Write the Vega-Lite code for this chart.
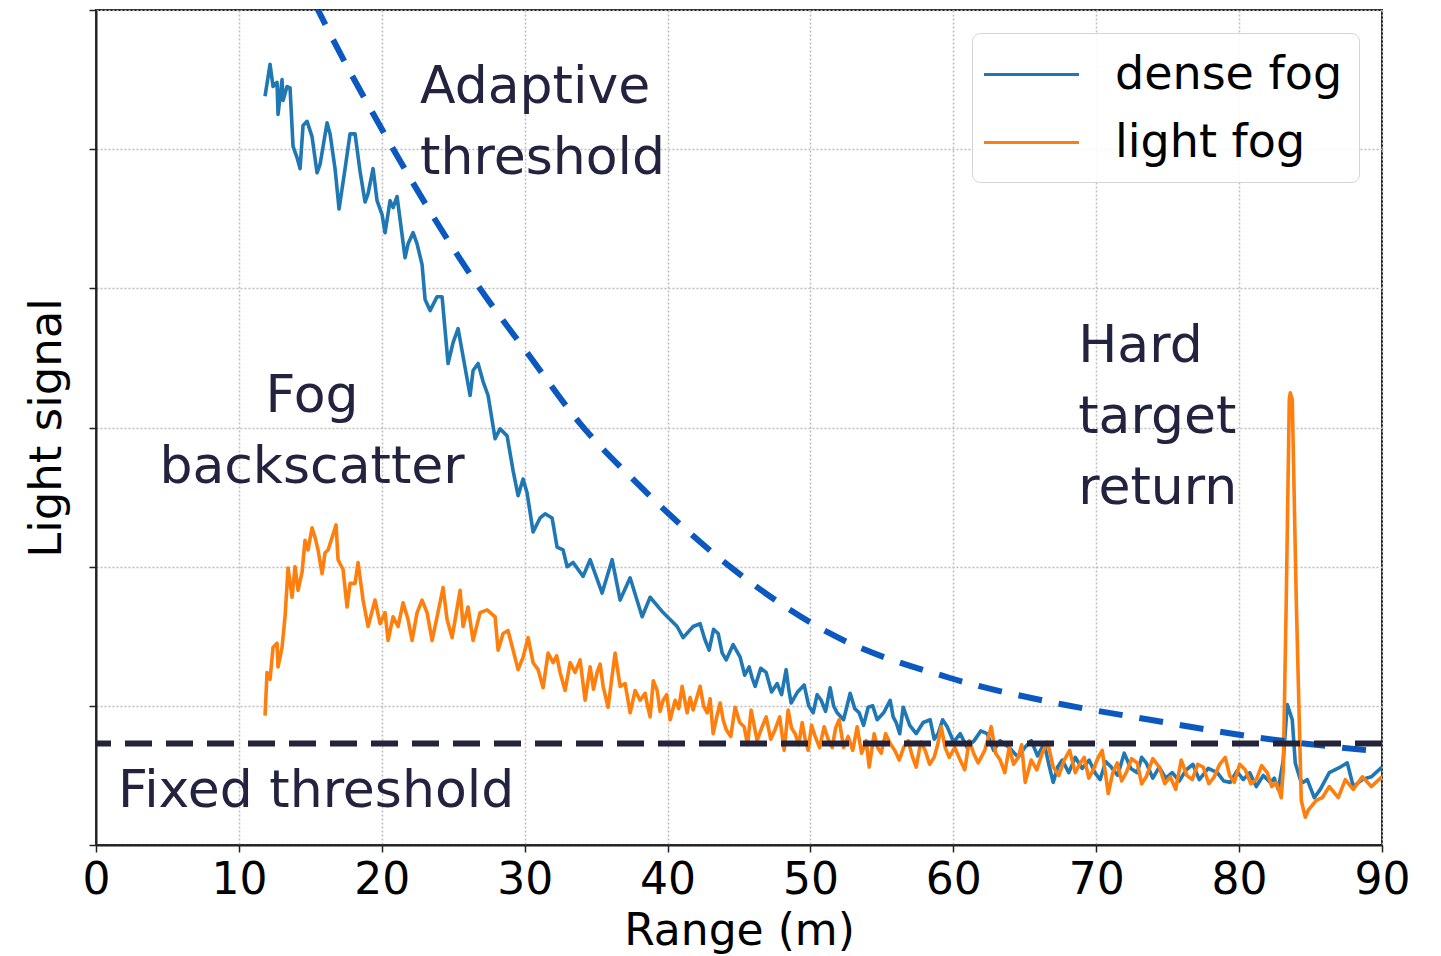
{
  "$schema": "https://vega.github.io/schema/vega-lite/v6.json",
  "width": 1286,
  "height": 835,
  "autosize": {"type": "none"},
  "padding": {"left": 96, "top": 10, "right": 59, "bottom": 111},
  "background": "white",
  "config": {
    "font": "DejaVu Sans",
    "view": {"stroke": "#222222", "strokeWidth": 2},
    "axis": {
      "grid": true,
      "gridColor": "#bdbdbd",
      "gridDash": [2, 2],
      "gridWidth": 1.5,
      "domainColor": "#222222",
      "domainWidth": 2,
      "tickColor": "#222222",
      "tickWidth": 1.5,
      "tickSize": 7,
      "labelFont": "DejaVu Sans",
      "labelColor": "#000000",
      "labelFlush": false,
      "titleFont": "DejaVu Sans",
      "titleColor": "#000000",
      "titleFontWeight": "normal"
    },
    "legend": {
      "orient": "top-right",
      "offset": 23,
      "fillColor": "rgba(255,255,255,0.85)",
      "strokeColor": "#d4d4d4",
      "cornerRadius": 8,
      "padding": 16,
      "symbolType": "M-2,0H2",
      "symbolSize": 2256,
      "symbolStrokeWidth": 3,
      "symbolOffset": 18,
      "labelOffset": 58,
      "rowPadding": 19,
      "labelFont": "DejaVu Sans",
      "labelFontSize": 46,
      "labelColor": "#000000",
      "labelLimit": 400,
      "title": null
    }
  },
  "datasets": {
    "signals": [
      {"range": 11.83, "signal": 5.38, "series": "dense fog"},
      {"range": 12.18, "signal": 5.61, "series": "dense fog"},
      {"range": 12.39, "signal": 5.45, "series": "dense fog"},
      {"range": 12.67, "signal": 5.48, "series": "dense fog"},
      {"range": 12.74, "signal": 5.25, "series": "dense fog"},
      {"range": 13.02, "signal": 5.50, "series": "dense fog"},
      {"range": 13.09, "signal": 5.35, "series": "dense fog"},
      {"range": 13.37, "signal": 5.45, "series": "dense fog"},
      {"range": 13.58, "signal": 5.44, "series": "dense fog"},
      {"range": 13.79, "signal": 5.02, "series": "dense fog"},
      {"range": 14.07, "signal": 4.94, "series": "dense fog"},
      {"range": 14.28, "signal": 4.86, "series": "dense fog"},
      {"range": 14.49, "signal": 5.17, "series": "dense fog"},
      {"range": 14.77, "signal": 5.20, "series": "dense fog"},
      {"range": 15.12, "signal": 5.09, "series": "dense fog"},
      {"range": 15.47, "signal": 4.83, "series": "dense fog"},
      {"range": 15.68, "signal": 4.89, "series": "dense fog"},
      {"range": 16.17, "signal": 5.19, "series": "dense fog"},
      {"range": 16.38, "signal": 5.11, "series": "dense fog"},
      {"range": 16.73, "signal": 4.86, "series": "dense fog"},
      {"range": 17.01, "signal": 4.57, "series": "dense fog"},
      {"range": 17.43, "signal": 4.86, "series": "dense fog"},
      {"range": 17.78, "signal": 5.11, "series": "dense fog"},
      {"range": 18.13, "signal": 5.11, "series": "dense fog"},
      {"range": 18.48, "signal": 4.84, "series": "dense fog"},
      {"range": 18.83, "signal": 4.62, "series": "dense fog"},
      {"range": 19.04, "signal": 4.68, "series": "dense fog"},
      {"range": 19.39, "signal": 4.86, "series": "dense fog"},
      {"range": 19.67, "signal": 4.63, "series": "dense fog"},
      {"range": 20.02, "signal": 4.53, "series": "dense fog"},
      {"range": 20.23, "signal": 4.40, "series": "dense fog"},
      {"range": 20.58, "signal": 4.63, "series": "dense fog"},
      {"range": 20.79, "signal": 4.58, "series": "dense fog"},
      {"range": 21.07, "signal": 4.66, "series": "dense fog"},
      {"range": 21.63, "signal": 4.22, "series": "dense fog"},
      {"range": 21.84, "signal": 4.32, "series": "dense fog"},
      {"range": 22.19, "signal": 4.40, "series": "dense fog"},
      {"range": 22.47, "signal": 4.32, "series": "dense fog"},
      {"range": 22.82, "signal": 4.17, "series": "dense fog"},
      {"range": 23.03, "signal": 3.92, "series": "dense fog"},
      {"range": 23.38, "signal": 3.84, "series": "dense fog"},
      {"range": 23.87, "signal": 3.94, "series": "dense fog"},
      {"range": 24.22, "signal": 3.94, "series": "dense fog"},
      {"range": 24.64, "signal": 3.46, "series": "dense fog"},
      {"range": 24.99, "signal": 3.61, "series": "dense fog"},
      {"range": 25.34, "signal": 3.71, "series": "dense fog"},
      {"range": 25.69, "signal": 3.51, "series": "dense fog"},
      {"range": 26.18, "signal": 3.23, "series": "dense fog"},
      {"range": 26.39, "signal": 3.41, "series": "dense fog"},
      {"range": 26.74, "signal": 3.46, "series": "dense fog"},
      {"range": 27.09, "signal": 3.33, "series": "dense fog"},
      {"range": 27.44, "signal": 3.23, "series": "dense fog"},
      {"range": 27.93, "signal": 2.92, "series": "dense fog"},
      {"range": 28.28, "signal": 2.99, "series": "dense fog"},
      {"range": 28.77, "signal": 2.94, "series": "dense fog"},
      {"range": 29.19, "signal": 2.69, "series": "dense fog"},
      {"range": 29.54, "signal": 2.51, "series": "dense fog"},
      {"range": 29.89, "signal": 2.63, "series": "dense fog"},
      {"range": 30.17, "signal": 2.53, "series": "dense fog"},
      {"range": 30.59, "signal": 2.25, "series": "dense fog"},
      {"range": 31.08, "signal": 2.35, "series": "dense fog"},
      {"range": 31.43, "signal": 2.38, "series": "dense fog"},
      {"range": 31.92, "signal": 2.35, "series": "dense fog"},
      {"range": 32.27, "signal": 2.14, "series": "dense fog"},
      {"range": 32.69, "signal": 2.12, "series": "dense fog"},
      {"range": 32.97, "signal": 2.00, "series": "dense fog"},
      {"range": 33.39, "signal": 2.03, "series": "dense fog"},
      {"range": 34.09, "signal": 1.93, "series": "dense fog"},
      {"range": 34.58, "signal": 2.05, "series": "dense fog"},
      {"range": 35.42, "signal": 1.81, "series": "dense fog"},
      {"range": 36.12, "signal": 2.05, "series": "dense fog"},
      {"range": 36.68, "signal": 1.76, "series": "dense fog"},
      {"range": 37.38, "signal": 1.92, "series": "dense fog"},
      {"range": 38.22, "signal": 1.64, "series": "dense fog"},
      {"range": 38.78, "signal": 1.78, "series": "dense fog"},
      {"range": 39.69, "signal": 1.67, "series": "dense fog"},
      {"range": 40.67, "signal": 1.57, "series": "dense fog"},
      {"range": 41.09, "signal": 1.49, "series": "dense fog"},
      {"range": 41.79, "signal": 1.57, "series": "dense fog"},
      {"range": 42.28, "signal": 1.59, "series": "dense fog"},
      {"range": 42.91, "signal": 1.40, "series": "dense fog"},
      {"range": 43.54, "signal": 1.52, "series": "dense fog"},
      {"range": 44.10, "signal": 1.33, "series": "dense fog"},
      {"range": 45.08, "signal": 1.35, "series": "dense fog"},
      {"range": 45.71, "signal": 1.28, "series": "dense fog"},
      {"range": 46.13, "signal": 1.14, "series": "dense fog"},
      {"range": 46.90, "signal": 1.24, "series": "dense fog"},
      {"range": 47.67, "signal": 1.16, "series": "dense fog"},
      {"range": 48.30, "signal": 1.26, "series": "dense fog"},
      {"range": 48.65, "signal": 1.02, "series": "dense fog"},
      {"range": 49.56, "signal": 1.15, "series": "dense fog"},
      {"range": 50.19, "signal": 0.95, "series": "dense fog"},
      {"range": 50.75, "signal": 1.04, "series": "dense fog"},
      {"range": 51.38, "signal": 1.13, "series": "dense fog"},
      {"range": 51.87, "signal": 0.95, "series": "dense fog"},
      {"range": 52.78, "signal": 1.09, "series": "dense fog"},
      {"range": 53.41, "signal": 0.95, "series": "dense fog"},
      {"range": 54.04, "signal": 0.99, "series": "dense fog"},
      {"range": 54.67, "signal": 0.90, "series": "dense fog"},
      {"range": 55.58, "signal": 1.04, "series": "dense fog"},
      {"range": 56.00, "signal": 0.88, "series": "dense fog"},
      {"range": 56.49, "signal": 0.99, "series": "dense fog"},
      {"range": 57.40, "signal": 0.80, "series": "dense fog"},
      {"range": 58.38, "signal": 0.90, "series": "dense fog"},
      {"range": 58.94, "signal": 0.80, "series": "dense fog"},
      {"range": 59.57, "signal": 0.85, "series": "dense fog"},
      {"range": 60.48, "signal": 0.80, "series": "dense fog"},
      {"range": 61.46, "signal": 0.75, "series": "dense fog"},
      {"range": 62.37, "signal": 0.80, "series": "dense fog"},
      {"range": 63.28, "signal": 0.75, "series": "dense fog"},
      {"range": 64.54, "signal": 0.63, "series": "dense fog"},
      {"range": 65.45, "signal": 0.75, "series": "dense fog"},
      {"range": 66.36, "signal": 0.73, "series": "dense fog"},
      {"range": 66.99, "signal": 0.45, "series": "dense fog"},
      {"range": 67.62, "signal": 0.61, "series": "dense fog"},
      {"range": 68.53, "signal": 0.63, "series": "dense fog"},
      {"range": 69.51, "signal": 0.61, "series": "dense fog"},
      {"range": 70.28, "signal": 0.47, "series": "dense fog"},
      {"range": 71.05, "signal": 0.56, "series": "dense fog"},
      {"range": 71.96, "signal": 0.66, "series": "dense fog"},
      {"range": 72.87, "signal": 0.52, "series": "dense fog"},
      {"range": 73.50, "signal": 0.59, "series": "dense fog"},
      {"range": 74.41, "signal": 0.56, "series": "dense fog"},
      {"range": 75.32, "signal": 0.52, "series": "dense fog"},
      {"range": 76.30, "signal": 0.54, "series": "dense fog"},
      {"range": 77.21, "signal": 0.47, "series": "dense fog"},
      {"range": 78.47, "signal": 0.52, "series": "dense fog"},
      {"range": 79.38, "signal": 0.45, "series": "dense fog"},
      {"range": 80.29, "signal": 0.47, "series": "dense fog"},
      {"range": 81.20, "signal": 0.42, "series": "dense fog"},
      {"range": 82.18, "signal": 0.45, "series": "dense fog"},
      {"range": 82.74, "signal": 0.40, "series": "dense fog"},
      {"range": 83.09, "signal": 0.61, "series": "dense fog"},
      {"range": 83.37, "signal": 1.01, "series": "dense fog"},
      {"range": 83.72, "signal": 0.90, "series": "dense fog"},
      {"range": 83.93, "signal": 0.59, "series": "dense fog"},
      {"range": 84.28, "signal": 0.47, "series": "dense fog"},
      {"range": 84.49, "signal": 0.45, "series": "dense fog"},
      {"range": 84.77, "signal": 0.47, "series": "dense fog"},
      {"range": 85.26, "signal": 0.34, "series": "dense fog"},
      {"range": 85.68, "signal": 0.40, "series": "dense fog"},
      {"range": 86.31, "signal": 0.52, "series": "dense fog"},
      {"range": 87.08, "signal": 0.56, "series": "dense fog"},
      {"range": 87.57, "signal": 0.59, "series": "dense fog"},
      {"range": 87.99, "signal": 0.42, "series": "dense fog"},
      {"range": 88.62, "signal": 0.47, "series": "dense fog"},
      {"range": 89.25, "signal": 0.49, "series": "dense fog"},
      {"range": 90.00, "signal": 0.56, "series": "dense fog"},
      {"range": 42.60, "signal": 1.48, "series": "dense fog"},
      {"range": 43.22, "signal": 1.55, "series": "dense fog"},
      {"range": 43.82, "signal": 1.38, "series": "dense fog"},
      {"range": 44.59, "signal": 1.44, "series": "dense fog"},
      {"range": 45.40, "signal": 1.22, "series": "dense fog"},
      {"range": 45.92, "signal": 1.20, "series": "dense fog"},
      {"range": 46.52, "signal": 1.27, "series": "dense fog"},
      {"range": 47.28, "signal": 1.10, "series": "dense fog"},
      {"range": 47.98, "signal": 1.08, "series": "dense fog"},
      {"range": 48.48, "signal": 1.12, "series": "dense fog"},
      {"range": 49.10, "signal": 1.10, "series": "dense fog"},
      {"range": 49.88, "signal": 1.00, "series": "dense fog"},
      {"range": 50.47, "signal": 1.08, "series": "dense fog"},
      {"range": 51.06, "signal": 0.96, "series": "dense fog"},
      {"range": 51.62, "signal": 1.00, "series": "dense fog"},
      {"range": 52.32, "signal": 0.90, "series": "dense fog"},
      {"range": 53.10, "signal": 0.98, "series": "dense fog"},
      {"range": 53.72, "signal": 0.86, "series": "dense fog"},
      {"range": 54.36, "signal": 1.00, "series": "dense fog"},
      {"range": 55.12, "signal": 0.95, "series": "dense fog"},
      {"range": 55.79, "signal": 0.92, "series": "dense fog"},
      {"range": 56.25, "signal": 0.80, "series": "dense fog"},
      {"range": 56.95, "signal": 0.86, "series": "dense fog"},
      {"range": 57.89, "signal": 0.88, "series": "dense fog"},
      {"range": 58.66, "signal": 0.76, "series": "dense fog"},
      {"range": 59.25, "signal": 0.90, "series": "dense fog"},
      {"range": 60.02, "signal": 0.74, "series": "dense fog"},
      {"range": 60.97, "signal": 0.70, "series": "dense fog"},
      {"range": 61.92, "signal": 0.82, "series": "dense fog"},
      {"range": 62.82, "signal": 0.68, "series": "dense fog"},
      {"range": 63.91, "signal": 0.70, "series": "dense fog"},
      {"range": 65.00, "signal": 0.70, "series": "dense fog"},
      {"range": 65.90, "signal": 0.64, "series": "dense fog"},
      {"range": 66.68, "signal": 0.58, "series": "dense fog"},
      {"range": 67.30, "signal": 0.56, "series": "dense fog"},
      {"range": 68.08, "signal": 0.52, "series": "dense fog"},
      {"range": 69.02, "signal": 0.55, "series": "dense fog"},
      {"range": 69.90, "signal": 0.52, "series": "dense fog"},
      {"range": 70.66, "signal": 0.60, "series": "dense fog"},
      {"range": 71.50, "signal": 0.50, "series": "dense fog"},
      {"range": 72.42, "signal": 0.55, "series": "dense fog"},
      {"range": 73.18, "signal": 0.63, "series": "dense fog"},
      {"range": 73.96, "signal": 0.48, "series": "dense fog"},
      {"range": 74.86, "signal": 0.48, "series": "dense fog"},
      {"range": 75.81, "signal": 0.46, "series": "dense fog"},
      {"range": 76.76, "signal": 0.58, "series": "dense fog"},
      {"range": 77.84, "signal": 0.55, "series": "dense fog"},
      {"range": 78.92, "signal": 0.46, "series": "dense fog"},
      {"range": 79.84, "signal": 0.53, "series": "dense fog"},
      {"range": 80.74, "signal": 0.52, "series": "dense fog"},
      {"range": 81.69, "signal": 0.50, "series": "dense fog"},
      {"range": 82.46, "signal": 0.48, "series": "dense fog"},
      {"range": 11.83, "signal": 0.93, "series": "light fog"},
      {"range": 11.97, "signal": 1.24, "series": "light fog"},
      {"range": 12.18, "signal": 1.19, "series": "light fog"},
      {"range": 12.39, "signal": 1.42, "series": "light fog"},
      {"range": 12.67, "signal": 1.45, "series": "light fog"},
      {"range": 12.74, "signal": 1.28, "series": "light fog"},
      {"range": 13.02, "signal": 1.42, "series": "light fog"},
      {"range": 13.23, "signal": 1.64, "series": "light fog"},
      {"range": 13.44, "signal": 1.99, "series": "light fog"},
      {"range": 13.72, "signal": 1.78, "series": "light fog"},
      {"range": 13.93, "signal": 2.00, "series": "light fog"},
      {"range": 14.14, "signal": 1.83, "series": "light fog"},
      {"range": 14.42, "signal": 1.96, "series": "light fog"},
      {"range": 14.63, "signal": 2.19, "series": "light fog"},
      {"range": 14.84, "signal": 2.12, "series": "light fog"},
      {"range": 15.12, "signal": 2.28, "series": "light fog"},
      {"range": 15.33, "signal": 2.21, "series": "light fog"},
      {"range": 15.54, "signal": 2.12, "series": "light fog"},
      {"range": 15.82, "signal": 1.95, "series": "light fog"},
      {"range": 16.03, "signal": 2.10, "series": "light fog"},
      {"range": 16.24, "signal": 2.12, "series": "light fog"},
      {"range": 16.52, "signal": 2.21, "series": "light fog"},
      {"range": 16.80, "signal": 2.30, "series": "light fog"},
      {"range": 16.94, "signal": 2.05, "series": "light fog"},
      {"range": 17.29, "signal": 1.98, "series": "light fog"},
      {"range": 17.57, "signal": 1.71, "series": "light fog"},
      {"range": 17.78, "signal": 1.88, "series": "light fog"},
      {"range": 18.13, "signal": 1.88, "series": "light fog"},
      {"range": 18.34, "signal": 2.03, "series": "light fog"},
      {"range": 18.69, "signal": 1.76, "series": "light fog"},
      {"range": 19.04, "signal": 1.57, "series": "light fog"},
      {"range": 19.53, "signal": 1.76, "series": "light fog"},
      {"range": 19.88, "signal": 1.59, "series": "light fog"},
      {"range": 20.23, "signal": 1.67, "series": "light fog"},
      {"range": 20.44, "signal": 1.47, "series": "light fog"},
      {"range": 20.79, "signal": 1.64, "series": "light fog"},
      {"range": 21.14, "signal": 1.57, "series": "light fog"},
      {"range": 21.49, "signal": 1.74, "series": "light fog"},
      {"range": 21.84, "signal": 1.62, "series": "light fog"},
      {"range": 22.12, "signal": 1.47, "series": "light fog"},
      {"range": 22.47, "signal": 1.67, "series": "light fog"},
      {"range": 22.82, "signal": 1.76, "series": "light fog"},
      {"range": 23.17, "signal": 1.67, "series": "light fog"},
      {"range": 23.52, "signal": 1.47, "series": "light fog"},
      {"range": 23.87, "signal": 1.64, "series": "light fog"},
      {"range": 24.29, "signal": 1.85, "series": "light fog"},
      {"range": 24.57, "signal": 1.62, "series": "light fog"},
      {"range": 24.92, "signal": 1.49, "series": "light fog"},
      {"range": 25.48, "signal": 1.83, "series": "light fog"},
      {"range": 25.69, "signal": 1.57, "series": "light fog"},
      {"range": 26.04, "signal": 1.71, "series": "light fog"},
      {"range": 26.39, "signal": 1.47, "series": "light fog"},
      {"range": 26.88, "signal": 1.67, "series": "light fog"},
      {"range": 27.37, "signal": 1.69, "series": "light fog"},
      {"range": 27.93, "signal": 1.64, "series": "light fog"},
      {"range": 28.14, "signal": 1.40, "series": "light fog"},
      {"range": 28.49, "signal": 1.52, "series": "light fog"},
      {"range": 28.84, "signal": 1.54, "series": "light fog"},
      {"range": 29.19, "signal": 1.40, "series": "light fog"},
      {"range": 29.54, "signal": 1.26, "series": "light fog"},
      {"range": 29.89, "signal": 1.35, "series": "light fog"},
      {"range": 30.24, "signal": 1.49, "series": "light fog"},
      {"range": 30.59, "signal": 1.31, "series": "light fog"},
      {"range": 30.94, "signal": 1.26, "series": "light fog"},
      {"range": 31.29, "signal": 1.13, "series": "light fog"},
      {"range": 31.64, "signal": 1.38, "series": "light fog"},
      {"range": 31.99, "signal": 1.31, "series": "light fog"},
      {"range": 32.48, "signal": 1.24, "series": "light fog"},
      {"range": 32.83, "signal": 1.11, "series": "light fog"},
      {"range": 33.18, "signal": 1.31, "series": "light fog"},
      {"range": 33.53, "signal": 1.24, "series": "light fog"},
      {"range": 33.88, "signal": 1.33, "series": "light fog"},
      {"range": 34.23, "signal": 1.04, "series": "light fog"},
      {"range": 34.58, "signal": 1.28, "series": "light fog"},
      {"range": 35.07, "signal": 1.24, "series": "light fog"},
      {"range": 35.49, "signal": 1.14, "series": "light fog"},
      {"range": 35.84, "signal": 0.99, "series": "light fog"},
      {"range": 36.33, "signal": 1.38, "series": "light fog"},
      {"range": 36.68, "signal": 1.14, "series": "light fog"},
      {"range": 37.03, "signal": 1.16, "series": "light fog"},
      {"range": 37.38, "signal": 0.95, "series": "light fog"},
      {"range": 37.73, "signal": 1.11, "series": "light fog"},
      {"range": 38.08, "signal": 1.04, "series": "light fog"},
      {"range": 38.43, "signal": 1.09, "series": "light fog"},
      {"range": 38.78, "signal": 0.92, "series": "light fog"},
      {"range": 39.27, "signal": 1.11, "series": "light fog"},
      {"range": 39.69, "signal": 1.04, "series": "light fog"},
      {"range": 40.18, "signal": 0.90, "series": "light fog"},
      {"range": 40.53, "signal": 1.04, "series": "light fog"},
      {"range": 41.02, "signal": 1.14, "series": "light fog"},
      {"range": 41.37, "signal": 0.95, "series": "light fog"},
      {"range": 41.79, "signal": 0.97, "series": "light fog"},
      {"range": 42.28, "signal": 1.14, "series": "light fog"},
      {"range": 42.77, "signal": 0.95, "series": "light fog"},
      {"range": 43.19, "signal": 0.80, "series": "light fog"},
      {"range": 43.68, "signal": 1.02, "series": "light fog"},
      {"range": 44.10, "signal": 0.83, "series": "light fog"},
      {"range": 44.73, "signal": 0.99, "series": "light fog"},
      {"range": 45.36, "signal": 0.85, "series": "light fog"},
      {"range": 45.85, "signal": 0.97, "series": "light fog"},
      {"range": 46.27, "signal": 0.75, "series": "light fog"},
      {"range": 46.90, "signal": 0.92, "series": "light fog"},
      {"range": 47.53, "signal": 0.83, "series": "light fog"},
      {"range": 48.16, "signal": 0.68, "series": "light fog"},
      {"range": 48.44, "signal": 0.97, "series": "light fog"},
      {"range": 48.93, "signal": 0.80, "series": "light fog"},
      {"range": 49.42, "signal": 0.88, "series": "light fog"},
      {"range": 49.84, "signal": 0.68, "series": "light fog"},
      {"range": 50.33, "signal": 0.78, "series": "light fog"},
      {"range": 50.96, "signal": 0.85, "series": "light fog"},
      {"range": 51.52, "signal": 0.70, "series": "light fog"},
      {"range": 52.01, "signal": 0.90, "series": "light fog"},
      {"range": 52.64, "signal": 0.78, "series": "light fog"},
      {"range": 53.27, "signal": 0.85, "series": "light fog"},
      {"range": 53.90, "signal": 0.75, "series": "light fog"},
      {"range": 54.11, "signal": 0.56, "series": "light fog"},
      {"range": 54.46, "signal": 0.80, "series": "light fog"},
      {"range": 54.95, "signal": 0.66, "series": "light fog"},
      {"range": 55.58, "signal": 0.73, "series": "light fog"},
      {"range": 56.21, "signal": 0.61, "series": "light fog"},
      {"range": 56.84, "signal": 0.75, "series": "light fog"},
      {"range": 57.40, "signal": 0.56, "series": "light fog"},
      {"range": 58.03, "signal": 0.68, "series": "light fog"},
      {"range": 58.66, "signal": 0.63, "series": "light fog"},
      {"range": 59.15, "signal": 0.85, "series": "light fog"},
      {"range": 59.71, "signal": 0.63, "series": "light fog"},
      {"range": 60.48, "signal": 0.61, "series": "light fog"},
      {"range": 61.11, "signal": 0.75, "series": "light fog"},
      {"range": 61.74, "signal": 0.59, "series": "light fog"},
      {"range": 62.65, "signal": 0.85, "series": "light fog"},
      {"range": 63.28, "signal": 0.61, "series": "light fog"},
      {"range": 63.91, "signal": 0.70, "series": "light fog"},
      {"range": 64.54, "signal": 0.63, "series": "light fog"},
      {"range": 65.03, "signal": 0.45, "series": "light fog"},
      {"range": 65.45, "signal": 0.61, "series": "light fog"},
      {"range": 66.22, "signal": 0.66, "series": "light fog"},
      {"range": 66.99, "signal": 0.56, "series": "light fog"},
      {"range": 67.76, "signal": 0.61, "series": "light fog"},
      {"range": 68.53, "signal": 0.52, "series": "light fog"},
      {"range": 69.16, "signal": 0.63, "series": "light fog"},
      {"range": 69.79, "signal": 0.54, "series": "light fog"},
      {"range": 70.42, "signal": 0.68, "series": "light fog"},
      {"range": 70.84, "signal": 0.37, "series": "light fog"},
      {"range": 71.47, "signal": 0.59, "series": "light fog"},
      {"range": 72.10, "signal": 0.52, "series": "light fog"},
      {"range": 72.87, "signal": 0.59, "series": "light fog"},
      {"range": 73.50, "signal": 0.49, "series": "light fog"},
      {"range": 74.41, "signal": 0.56, "series": "light fog"},
      {"range": 75.18, "signal": 0.49, "series": "light fog"},
      {"range": 75.95, "signal": 0.61, "series": "light fog"},
      {"range": 76.72, "signal": 0.47, "series": "light fog"},
      {"range": 77.49, "signal": 0.56, "series": "light fog"},
      {"range": 78.26, "signal": 0.49, "series": "light fog"},
      {"range": 79.03, "signal": 0.63, "series": "light fog"},
      {"range": 79.66, "signal": 0.45, "series": "light fog"},
      {"range": 80.43, "signal": 0.54, "series": "light fog"},
      {"range": 81.20, "signal": 0.47, "series": "light fog"},
      {"range": 81.97, "signal": 0.52, "series": "light fog"},
      {"range": 82.60, "signal": 0.45, "series": "light fog"},
      {"range": 82.95, "signal": 0.34, "series": "light fog"},
      {"range": 83.09, "signal": 0.54, "series": "light fog"},
      {"range": 83.30, "signal": 1.76, "series": "light fog"},
      {"range": 83.51, "signal": 3.20, "series": "light fog"},
      {"range": 83.58, "signal": 3.25, "series": "light fog"},
      {"range": 83.72, "signal": 3.20, "series": "light fog"},
      {"range": 84.00, "signal": 1.76, "series": "light fog"},
      {"range": 84.35, "signal": 0.32, "series": "light fog"},
      {"range": 84.63, "signal": 0.20, "series": "light fog"},
      {"range": 84.84, "signal": 0.25, "series": "light fog"},
      {"range": 85.40, "signal": 0.32, "series": "light fog"},
      {"range": 85.82, "signal": 0.34, "series": "light fog"},
      {"range": 86.31, "signal": 0.42, "series": "light fog"},
      {"range": 86.94, "signal": 0.34, "series": "light fog"},
      {"range": 87.43, "signal": 0.47, "series": "light fog"},
      {"range": 87.99, "signal": 0.40, "series": "light fog"},
      {"range": 88.62, "signal": 0.49, "series": "light fog"},
      {"range": 89.25, "signal": 0.42, "series": "light fog"},
      {"range": 90.00, "signal": 0.49, "series": "light fog"},
      {"range": 32.24, "signal": 1.36, "series": "light fog"},
      {"range": 34.82, "signal": 1.12, "series": "light fog"},
      {"range": 35.28, "signal": 1.30, "series": "light fog"},
      {"range": 36.10, "signal": 1.20, "series": "light fog"},
      {"range": 38.60, "signal": 1.00, "series": "light fog"},
      {"range": 39.00, "signal": 1.18, "series": "light fog"},
      {"range": 39.48, "signal": 0.96, "series": "light fog"},
      {"range": 39.94, "signal": 1.08, "series": "light fog"},
      {"range": 40.78, "signal": 0.98, "series": "light fog"},
      {"range": 41.58, "signal": 1.06, "series": "light fog"},
      {"range": 42.52, "signal": 1.00, "series": "light fog"},
      {"range": 42.98, "signal": 1.05, "series": "light fog"},
      {"range": 43.44, "signal": 0.92, "series": "light fog"},
      {"range": 43.89, "signal": 0.90, "series": "light fog"},
      {"range": 44.42, "signal": 0.78, "series": "light fog"},
      {"range": 45.05, "signal": 0.88, "series": "light fog"},
      {"range": 45.60, "signal": 0.72, "series": "light fog"},
      {"range": 46.06, "signal": 0.86, "series": "light fog"},
      {"range": 46.58, "signal": 0.84, "series": "light fog"},
      {"range": 47.22, "signal": 0.76, "series": "light fog"},
      {"range": 47.85, "signal": 0.92, "series": "light fog"},
      {"range": 48.68, "signal": 0.84, "series": "light fog"},
      {"range": 49.18, "signal": 0.72, "series": "light fog"},
      {"range": 49.63, "signal": 0.76, "series": "light fog"},
      {"range": 50.08, "signal": 0.86, "series": "light fog"},
      {"range": 50.64, "signal": 0.70, "series": "light fog"},
      {"range": 51.24, "signal": 0.76, "series": "light fog"},
      {"range": 51.76, "signal": 0.84, "series": "light fog"},
      {"range": 52.32, "signal": 0.70, "series": "light fog"},
      {"range": 52.96, "signal": 0.68, "series": "light fog"},
      {"range": 53.58, "signal": 0.66, "series": "light fog"},
      {"range": 54.70, "signal": 0.70, "series": "light fog"},
      {"range": 55.26, "signal": 0.80, "series": "light fog"},
      {"range": 55.90, "signal": 0.68, "series": "light fog"},
      {"range": 56.52, "signal": 0.70, "series": "light fog"},
      {"range": 57.12, "signal": 0.64, "series": "light fog"},
      {"range": 57.72, "signal": 0.74, "series": "light fog"},
      {"range": 58.34, "signal": 0.58, "series": "light fog"},
      {"range": 58.90, "signal": 0.72, "series": "light fog"},
      {"range": 59.43, "signal": 0.70, "series": "light fog"},
      {"range": 60.10, "signal": 0.70, "series": "light fog"},
      {"range": 60.80, "signal": 0.54, "series": "light fog"},
      {"range": 61.42, "signal": 0.66, "series": "light fog"},
      {"range": 62.20, "signal": 0.68, "series": "light fog"},
      {"range": 62.96, "signal": 0.66, "series": "light fog"},
      {"range": 63.60, "signal": 0.52, "series": "light fog"},
      {"range": 64.22, "signal": 0.58, "series": "light fog"},
      {"range": 64.78, "signal": 0.72, "series": "light fog"},
      {"range": 65.84, "signal": 0.54, "series": "light fog"},
      {"range": 66.60, "signal": 0.74, "series": "light fog"},
      {"range": 67.38, "signal": 0.50, "series": "light fog"},
      {"range": 68.14, "signal": 0.68, "series": "light fog"},
      {"range": 68.84, "signal": 0.58, "series": "light fog"},
      {"range": 69.48, "signal": 0.48, "series": "light fog"},
      {"range": 70.10, "signal": 0.62, "series": "light fog"},
      {"range": 71.16, "signal": 0.52, "series": "light fog"},
      {"range": 71.78, "signal": 0.46, "series": "light fog"},
      {"range": 72.48, "signal": 0.62, "series": "light fog"},
      {"range": 73.18, "signal": 0.44, "series": "light fog"},
      {"range": 73.96, "signal": 0.62, "series": "light fog"},
      {"range": 74.80, "signal": 0.44, "series": "light fog"},
      {"range": 75.56, "signal": 0.40, "series": "light fog"},
      {"range": 76.34, "signal": 0.50, "series": "light fog"},
      {"range": 77.10, "signal": 0.58, "series": "light fog"},
      {"range": 77.88, "signal": 0.44, "series": "light fog"},
      {"range": 78.64, "signal": 0.58, "series": "light fog"},
      {"range": 79.34, "signal": 0.50, "series": "light fog"},
      {"range": 80.04, "signal": 0.58, "series": "light fog"},
      {"range": 80.82, "signal": 0.44, "series": "light fog"},
      {"range": 81.58, "signal": 0.57, "series": "light fog"},
      {"range": 82.28, "signal": 0.42, "series": "light fog"}
    ],
    "adaptive": [
      {"range": 15.30, "signal": 6.05},
      {"range": 15.54, "signal": 6.00},
      {"range": 20.58, "signal": 5.04},
      {"range": 26.66, "signal": 4.03},
      {"range": 30.37, "signal": 3.51},
      {"range": 33.87, "signal": 3.03},
      {"range": 37.86, "signal": 2.60},
      {"range": 44.37, "signal": 2.00},
      {"range": 51.37, "signal": 1.52},
      {"range": 59.77, "signal": 1.20},
      {"range": 67.67, "signal": 1.01},
      {"range": 73.76, "signal": 0.90},
      {"range": 80.76, "signal": 0.78},
      {"range": 90.00, "signal": 0.67}
    ],
    "fixed": [{"signal": 0.73}],
    "notesLeft": [
      {"label": "Adaptive\nthreshold", "range": 22.68, "signal": 5.33},
      {"label": "Hard\ntarget\nreturn", "range": 68.74, "signal": 3.47},
      {"label": "Fixed threshold", "range": 1.54, "signal": 0.27}
    ],
    "notesCenter": [
      {"label": "Fog\nbackscatter", "range": 15.12, "signal": 3.11}
    ]
  },
  "encoding": {
    "x": {
      "field": "range",
      "type": "quantitative",
      "scale": {"domain": [0, 90], "nice": false, "zero": false},
      "axis": {
        "title": "Range (m)",
        "values": [0, 10, 20, 30, 40, 50, 60, 70, 80, 90],
        "labelFontSize": 44,
        "labelPadding": 6,
        "titleFontSize": 44,
        "titlePadding": 7
      }
    },
    "y": {
      "field": "signal",
      "type": "quantitative",
      "scale": {"domain": [0, 6], "nice": false, "zero": false},
      "axis": {
        "title": "Light signal",
        "values": [0, 1, 2, 3, 4, 5, 6],
        "labels": false,
        "titleFontSize": 45,
        "titlePadding": 19
      }
    }
  },
  "layer": [
    {
      "data": {"name": "signals"},
      "mark": {"type": "line", "strokeWidth": 3.6, "clip": true, "interpolate": "linear", "strokeJoin": "round"},
      "encoding": {
        "color": {
          "field": "series",
          "type": "nominal",
          "scale": {"domain": ["dense fog", "light fog"], "range": ["#1f77b4", "#ff7f0e"]},
          "legend": {"title": null}
        },
        "detail": {"field": "series"}
      }
    },
    {
      "data": {"name": "adaptive"},
      "mark": {"type": "line", "color": "#0a58c0", "strokeWidth": 6, "strokeDash": [24, 17], "clip": true, "interpolate": "monotone"},
      "encoding": {}
    },
    {
      "data": {"name": "fixed"},
      "mark": {"type": "rule", "color": "#23233b", "strokeWidth": 6, "strokeDash": [27, 14]},
      "encoding": {"x": null}
    },
    {
      "data": {"name": "notesLeft"},
      "mark": {"type": "text", "align": "left", "baseline": "alphabetic", "fontSize": 52, "lineHeight": 71, "lineBreak": "\n", "color": "#23233f", "font": "DejaVu Sans"},
      "encoding": {"text": {"field": "label"}}
    },
    {
      "data": {"name": "notesCenter"},
      "mark": {"type": "text", "align": "center", "baseline": "alphabetic", "fontSize": 52, "lineHeight": 71, "lineBreak": "\n", "color": "#23233f", "font": "DejaVu Sans"},
      "encoding": {"text": {"field": "label"}}
    }
  ]
}
